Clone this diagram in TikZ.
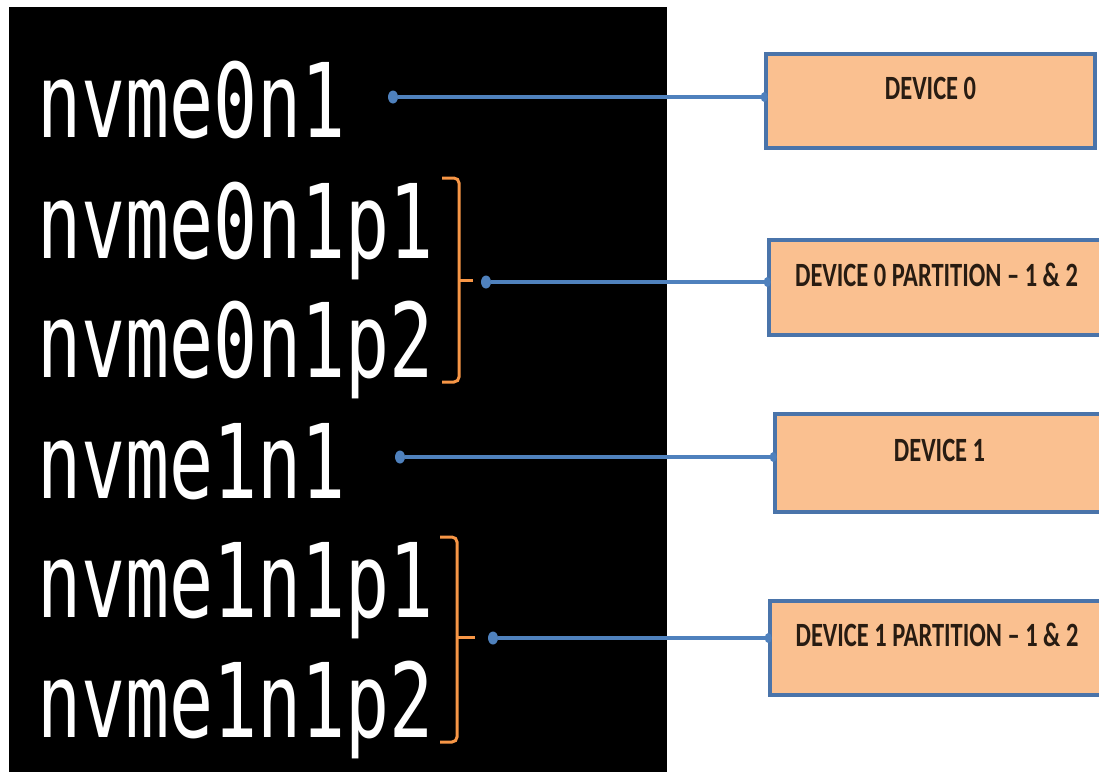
\documentclass[tikz,border=0pt]{standalone}
\usepackage{fontspec}
\setmainfont{Carlito}
\newfontfamily\termfont[FakeStretch=0.71]{DejaVu Sans Mono}
\newfontfamily\boxfont[FakeStretch=0.72]{Carlito}
\usetikzlibrary{shapes.geometric}
\definecolor{linkblue}{RGB}{79,129,189}
\definecolor{boxedge}{RGB}{74,116,170}
\definecolor{boxfill}{RGB}{250,192,144}
\definecolor{braceorange}{RGB}{247,150,70}
\definecolor{boxtext}{RGB}{40,28,18}

\begin{document}
\begin{tikzpicture}[x=1pt,y=-1pt,
    term/.style={anchor=base west,inner sep=0pt,text=white,font=\termfont\fontsize{103}{103}\selectfont},
    devbox/.style={draw=boxedge,fill=boxfill,line width=3.5pt,inner sep=0pt,text depth=26pt,text=boxtext,font=\boxfont\bfseries\fontsize{34}{34}\selectfont},
    pin/.style={fill=linkblue,ellipse,inner sep=0pt,minimum width=10pt,minimum height=13pt},
    tip/.style={fill=linkblue,ellipse,inner sep=0pt,minimum width=7pt,minimum height=10pt},
    link/.style={draw=linkblue,line width=4pt},
    brace/.style={draw=braceorange,line width=3pt,rounded corners=5pt}]
    \clip (0,0) rectangle (1099,772);
    \fill[white] (0,0) rectangle (1099,772);
    \fill[black] (9,7) rectangle (667,772);

    % terminal listing
    \node[term] (n0) at (37,137) {nvme0n1};
    \node[term] (p01) at (37,258) {nvme0n1p1};
    \node[term] (p02) at (37,377) {nvme0n1p2};
    \node[term] (n1) at (37,498) {nvme1n1};
    \node[term] (p11) at (37,617) {nvme1n1p1};
    \node[term] (p12) at (37,737) {nvme1n1p2};

    \draw[brace] (442,178) -- (459,178) -- (459,382) -- (442,382);
    \draw[brace] (459,280) -- (473,280);
    \draw[brace] (440,537) -- (457,537) -- (457,742) -- (440,742);
    \draw[brace] (457,637) -- (475,637);

    % boxes
    \node[devbox,minimum width=329pt,minimum height=94pt] (dev0) at (930.5,101) {DEVICE 0};
    \node[devbox,minimum width=335pt,minimum height=95pt] (part0) at (936.5,287.5) {DEVICE 0 PARTITION – 1 \& 2};
    \node[devbox,minimum width=329pt,minimum height=98pt] (dev1) at (939.5,463) {DEVICE 1};
    \node[devbox,minimum width=334pt,minimum height=94pt] (part1) at (937,648) {DEVICE 1 PARTITION – 1 \& 2};

    \node[pin] (d0) at (393,97) {};
    \node[pin] (d1) at (486,282) {};
    \node[pin] (d2) at (400,457) {};
    \node[pin] (d3) at (493,638) {};

    \draw[link] (d0) -- (d0 -| dev0.west) node[tip] {};
    \draw[link] (d1) -- (d1 -| part0.west) node[tip] {};
    \draw[link] (d2) -- (d2 -| dev1.west) node[tip] {};
    \draw[link] (d3) -- (d3 -| part1.west) node[tip] {};
\end{tikzpicture}
\end{document}
